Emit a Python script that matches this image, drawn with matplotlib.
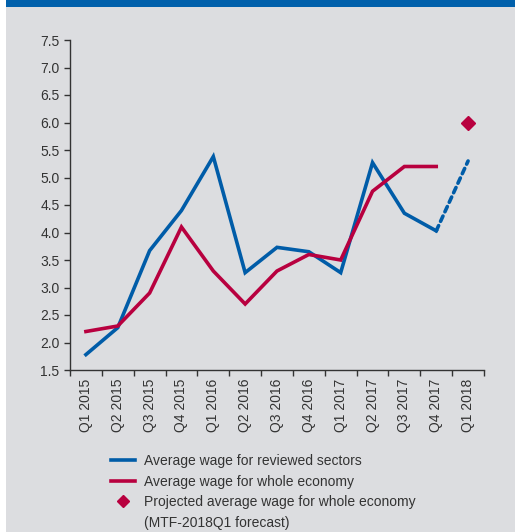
import numpy as np
import matplotlib.pyplot as plt
from matplotlib.patches import Rectangle
from matplotlib.lines import Line2D

quarters = ["Q1 2015", "Q2 2015", "Q3 2015", "Q4 2015", "Q1 2016", "Q2 2016",
            "Q3 2016", "Q4 2016", "Q1 2017", "Q2 2017", "Q3 2017", "Q4 2017",
            "Q1 2018"]
reviewed = [1.78, 2.27, 3.67, 4.4, 5.38, 3.27, 3.73, 3.65, 3.27, 5.27, 4.35, 4.03]
reviewed_proj = [4.03, 5.3]
whole = [2.2, 2.3, 2.9, 4.1, 3.3, 2.7, 3.3, 3.6, 3.5, 4.75, 5.2, 5.2]
whole_proj = 6.0

blue = "#005ca8"
red = "#b8003f"
bg = "#dcdde0"

plt.rcParams['font.family'] = ['Liberation Sans', 'DejaVu Sans']

fig = plt.figure(figsize=(5.15, 5.32), dpi=100)
fig.patch.set_facecolor("white")
fig.add_artist(Rectangle((6/515, 0), 1, 1, transform=fig.transFigure,
                         facecolor=bg, edgecolor="none", zorder=-10))
fig.add_artist(Rectangle((6/515, 1 - 7/532), 1, 7/532, transform=fig.transFigure,
                         facecolor="#0060ab", edgecolor="none", zorder=-9))

ax = fig.add_axes([70/515, 1 - 370/532, 414/515, 330/532])
ax.set_facecolor("none")

x = np.arange(len(quarters))
ax.plot(x[:len(reviewed)], reviewed, color=blue, lw=2.6, solid_joinstyle="miter")
ax.plot(x[len(reviewed)-1:], reviewed_proj, color=blue, lw=2.6,
        linestyle=(0, (1.6, 1.3)), dash_capstyle="round")
ax.plot(x[:len(whole)], whole, color=red, lw=2.6, solid_joinstyle="miter")
ax.plot(x[-1], whole_proj, marker="D", color=red, ms=7, ls="none")

ax.set_xlim(-0.5, len(quarters) - 0.5)
ax.set_ylim(1.5, 7.5)
ax.set_yticks(np.arange(1.5, 7.51, 0.5))
ax.set_yticklabels([f"{v:.1f}" for v in np.arange(1.5, 7.51, 0.5)])
ax.set_xticks(np.arange(-0.5, len(quarters), 1.0))
ax.set_xticklabels([])
ax.set_xticks(x, minor=True)
ax.set_xticklabels(quarters, minor=True, rotation=90)
ax.tick_params(axis="x", which="minor", length=0, pad=6)
ax.tick_params(axis="both", which="major", length=4, width=1, color="#333333",
               labelsize=10, labelcolor="#333333")
ax.tick_params(axis="x", which="minor", labelsize=10, labelcolor="#333333")
for s in ["top", "right"]:
    ax.spines[s].set_visible(False)
for s in ["left", "bottom"]:
    ax.spines[s].set_color("#333333")
    ax.spines[s].set_linewidth(1)

handles = [
    Line2D([], [], color=blue, lw=2.6),
    Line2D([], [], color=red, lw=2.6),
    Line2D([], [], color=red, marker="D", ms=6.5, ls="none"),
    Line2D([], [], ls="none"),
]
labels = ["Average wage for reviewed sectors",
          "Average wage for whole economy",
          "Projected average wage for whole economy",
          "(MTF-2018Q1 forecast)"]
fig.legend(handles, labels, loc="upper left", bbox_to_anchor=(104/515, 1 - 447/532),
           frameon=False, fontsize=10, handlelength=1.75, handletextpad=0.6,
           labelspacing=0.48, borderpad=0, labelcolor="#333333")

fig.savefig("out.png", dpi=100, facecolor=fig.get_facecolor())
